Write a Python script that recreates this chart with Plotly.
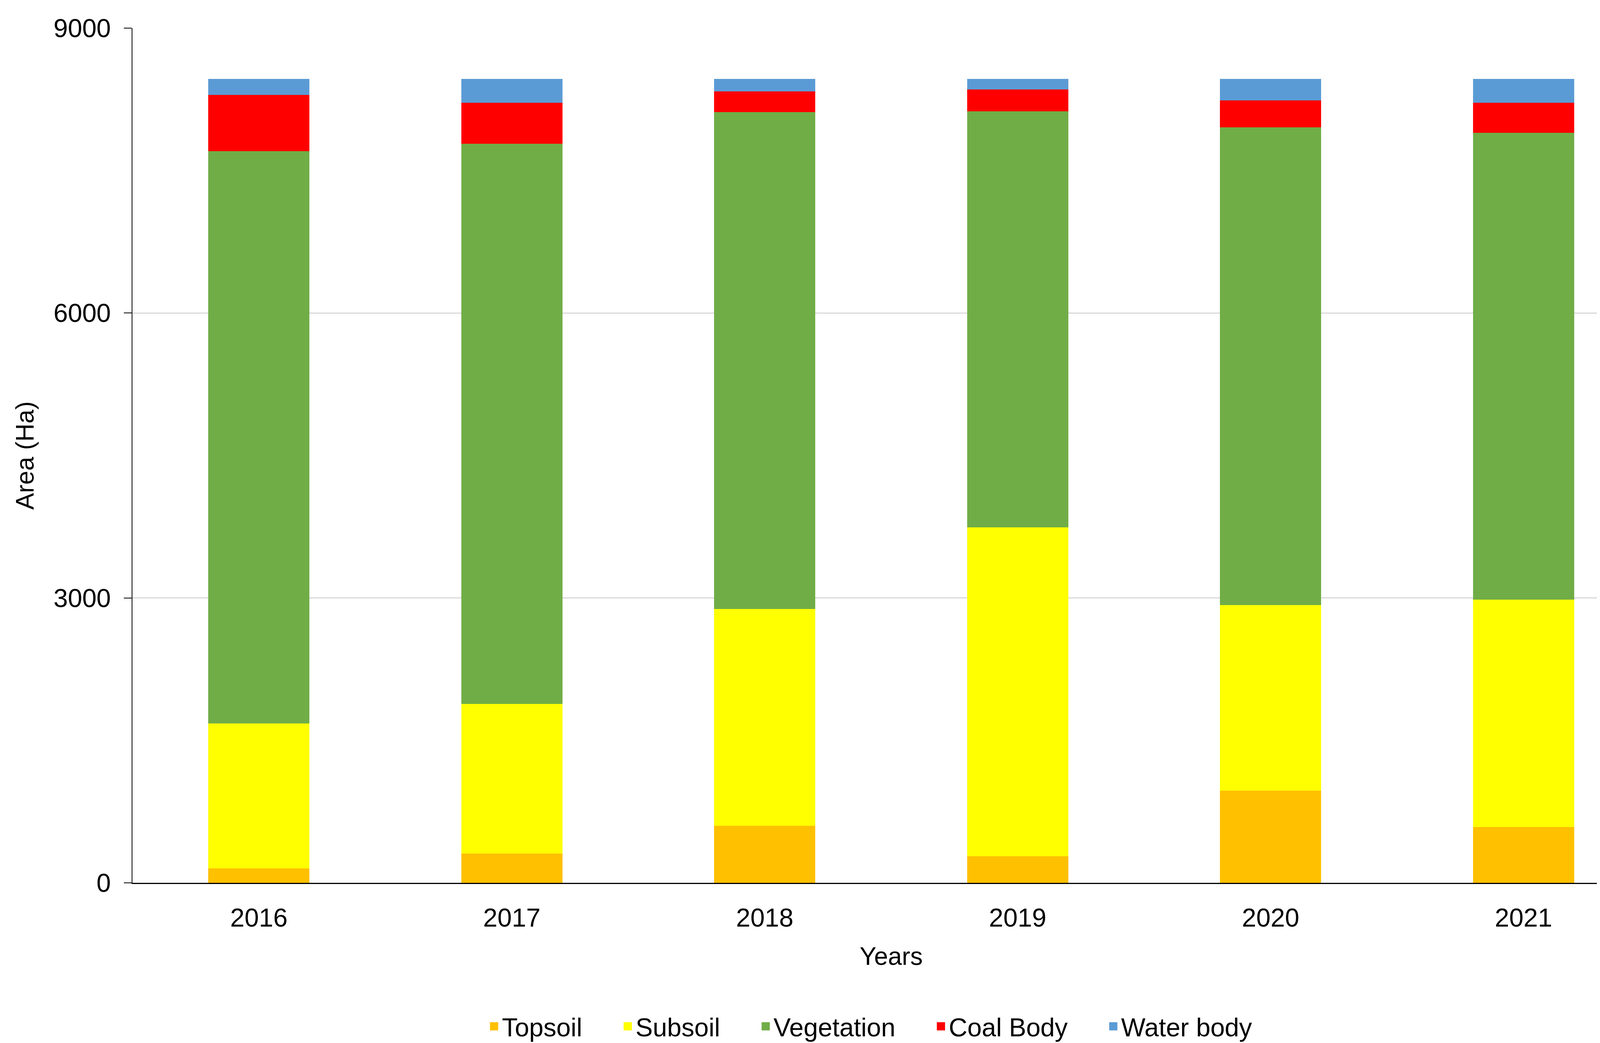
import plotly.graph_objects as go

# values (Ha)
years = ["2016", "2017", "2018", "2019", "2020", "2021"]
topsoil = [152, 308, 600, 280, 972, 589]
subsoil = [1528, 1574, 2284, 3462, 1954, 2392]
vegetation = [6026, 5902, 5233, 4382, 5028, 4918]
coal_body = [592, 429, 218, 231, 283, 316]
water_body = [168, 253, 131, 111, 229, 251]

y_ticks = [0, 3000, 6000, 9000]

series = [
    ("Topsoil", topsoil, "#FFC000"),
    ("Subsoil", subsoil, "#FFFF00"),
    ("Vegetation", vegetation, "#70AD47"),
    ("Coal Body", coal_body, "#FF0000"),
    ("Water body", water_body, "#5B9BD5"),
]

fig = go.Figure()
for name, vals, col in series:
    fig.add_trace(go.Bar(x=years, y=vals, name=name, legendgroup=name,
                         showlegend=False,
                         marker=dict(color=col, line=dict(width=0))))

# legend entries (bar legend squares are fixed small in plotly, so use square markers)
# trailing nbsp's just widen the gap between entries like excel does
pad = "\u00a0" * 5
for i, (name, vals, col) in enumerate(series):
    label = name + (pad if i < len(series) - 1 else "")
    fig.add_trace(go.Scatter(x=[years[0]], y=[None], name=label, legendgroup=name,
                             mode="markers", hoverinfo="skip",
                             marker=dict(symbol="square", size=16, color=col,
                                         line=dict(width=5, color=col))))

fig.update_layout(
    barmode="stack",
    bargap=0.6,
    width=4269, height=2670,
    template="plotly_white",
    plot_bgcolor="white", paper_bgcolor="white",
    font=dict(family="Liberation Sans, Arial, sans-serif", size=66, color="black"),
    margin=dict(l=331, r=53, t=64, b=418),
    legend=dict(orientation="h", xref="container", yref="container",
                x=0.52, y=0.019, xanchor="center", yanchor="middle",
                traceorder="normal", itemsizing="trace",
                font=dict(size=66), itemwidth=30),
)

fig.update_xaxes(
    title_text="Years", title_font_size=64, title_standoff=40,
    showline=True, linecolor="black", linewidth=3,
    showgrid=False, ticks="", ticklabelstandoff=30,
)
fig.update_yaxes(
    title_text="Area (Ha)", title_font_size=64, title_standoff=30,
    range=[0, 9000], tickvals=y_ticks,
    showline=True, linecolor="black", linewidth=2,
    ticks="outside", ticklen=20, tickwidth=2, tickcolor="black",
    showgrid=True, gridcolor="#D9D9D9", gridwidth=3,
    zeroline=False, ticklabelstandoff=20,
)

fig.write_html("out.html")
